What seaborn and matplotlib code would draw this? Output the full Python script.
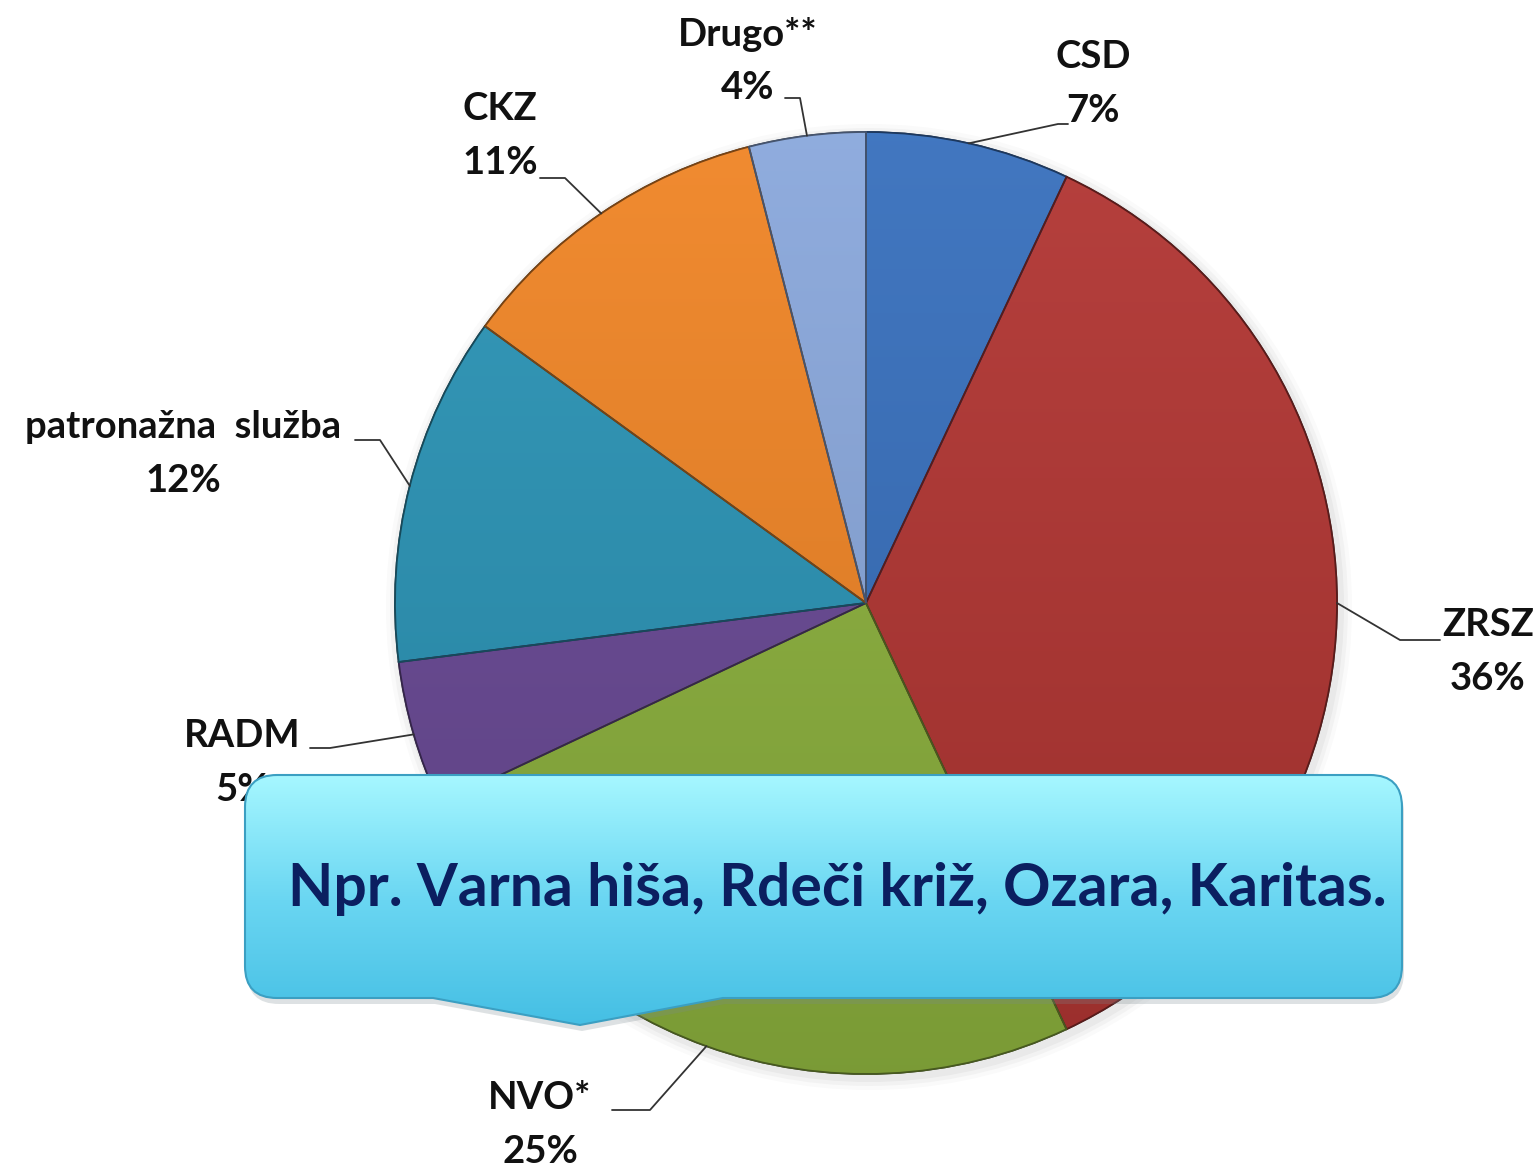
import numpy as np
import matplotlib
matplotlib.use('Agg')
import matplotlib.pyplot as plt
import matplotlib.colors as mcolors
from matplotlib.path import Path
from matplotlib.patches import PathPatch, Circle
import seaborn as sns

W, H = 1539, 1168

# slices, clockwise from 12 o'clock
labels = ['CSD', 'ZRSZ', 'NVO*', 'RADM', 'patronažna  služba', 'CKZ', 'Drugo**']
shares = [7, 36, 25, 5, 12, 11, 4]
colors = ['#3870bd', '#b23633', '#8db23e', '#6a4a96', '#2b94b6', '#f08526', '#8aa8dc']
note = 'Npr. Varna hiša, Rdeči križ, Ozara, Karitas.'

# label layout (pixel positions measured from the top-left of the slide)
label_xy = [(1093, 84), (1488, 652), (540, 1125), (242, 763), (183, 454), (500, 136), (748, 61)]
elbow_xy = [(1058, 124), (1400, 640), (650, 1110), (330, 748), (380, 440), (565, 178), (800, 98)]
end_xy = [(1068, 124), (1440, 640), (612, 1110), (310, 748), (355, 440), (540, 178), (785, 98)]

CX, CY, R = 866, H - 603, 471


def fy(y):
    return H - y


def shade(c, f):
    rgb = np.array(mcolors.to_rgb(c))
    if f > 0:
        rgb = rgb + (1 - rgb) * f
    else:
        rgb = rgb * (1 + f)
    return np.clip(rgb, 0, 1)


sns.set_theme(style='white')
plt.rcParams['font.family'] = ['Lato', 'DejaVu Sans']

fig = plt.figure(figsize=(W / 100, H / 100), dpi=100)
ax = fig.add_axes([0, 0, 1, 1])
ax.set_xlim(0, W)
ax.set_ylim(0, H)
ax.set_aspect('equal')
ax.axis('off')

# soft shadow behind the pie
for k, a in [(12, 0.04), (8, 0.06), (4, 0.08)]:
    ax.add_patch(Circle((CX + 3, CY - 4), R + k, color='#808080', alpha=a, lw=0, zorder=0))

pal = sns.color_palette(colors)
wedges, _ = ax.pie(shares, colors=pal, startangle=90, counterclock=False,
                   center=(CX, CY), radius=R, frame=True,
                   wedgeprops=dict(linewidth=1.2, edgecolor='#3a3a3a'))
ax.set_xlim(0, W)
ax.set_ylim(0, H)
ax.axis('off')

# vertical gradient in each slice, a bit like the Office bevel style
grad = np.linspace(0, 1, 256).reshape(-1, 1)
for w, c in zip(wedges, colors):
    cmap = mcolors.LinearSegmentedColormap.from_list('g', [shade(c, -0.13), shade(c, 0.05)])
    im = ax.imshow(grad, extent=[CX - R, CX + R, CY - R, CY + R], origin='lower',
                   cmap=cmap, aspect='auto', zorder=1.5, interpolation='bicubic')
    im.set_clip_path(w)
    w.set_zorder(1)
    ol = PathPatch(w.get_path(), transform=w.get_transform(), fill=False,
                   edgecolor=shade(c, -0.5), lw=1.3, zorder=1.6)
    ax.add_patch(ol)

# labels with leader lines
cum = 0
for lab, v, (tx, ty), (ex, ey), (hx, hy) in zip(labels, shares, label_xy, elbow_xy, end_xy):
    mid = np.deg2rad(90 - 360 * (cum + v / 2) / sum(shares))
    cum += v
    sx, sy = CX + R * np.cos(mid), CY + R * np.sin(mid)
    ax.plot([sx, ex, hx], [sy, fy(ey), fy(hy)], color='#333333', lw=1.3, zorder=2)
    ax.text(tx, fy(ty), f'{lab}\n{v}%', ha='center', va='center', multialignment='center',
            fontsize=27.5, fontweight='bold', color='#111111', linespacing=1.7, zorder=2)

# callout box with pointer
x0, x1, y0, y1, r = 245, 1402, 775, 998, 32
pts = [(x0 + r, y0), (x1 - r, y0), (x1, y0), (x1, y0 + r), (x1, y1 - r), (x1, y1), (x1 - r, y1),
       (723, y1), (580, 1025), (433, y1), (x0 + r, y1), (x0, y1), (x0, y1 - r), (x0, y0 + r),
       (x0, y0), (x0 + r, y0), (x0 + r, y0)]
codes = [Path.MOVETO, Path.LINETO, Path.CURVE3, Path.CURVE3, Path.LINETO, Path.CURVE3, Path.CURVE3,
         Path.LINETO, Path.LINETO, Path.LINETO, Path.LINETO, Path.CURVE3, Path.CURVE3, Path.LINETO,
         Path.CURVE3, Path.CURVE3, Path.CLOSEPOLY]
box = Path([(x, fy(y)) for x, y in pts], codes)

shadow = PathPatch(box.transformed(matplotlib.transforms.Affine2D().translate(2, -6)),
                   facecolor='#7a8a90', edgecolor='none', alpha=0.25, zorder=3)
ax.add_patch(shadow)
fill = PathPatch(box, facecolor='#6fd6f0', edgecolor='none', zorder=3.1)
ax.add_patch(fill)
cmap_box = mcolors.LinearSegmentedColormap.from_list('b', ['#45bfe4', '#6ad6f2', '#a6f7ff'])
im = ax.imshow(grad, extent=[x0, x1, fy(1025), fy(y0)], origin='lower', cmap=cmap_box,
               aspect='auto', zorder=3.2, interpolation='bicubic')
im.set_clip_path(fill)
ax.add_patch(PathPatch(box, fill=False, edgecolor='#3b9fc2', lw=1.5, zorder=3.3))

ax.text(837, fy(889), note, ha='center', va='center', fontsize=42.4, fontweight='bold',
        color='#0b1f60', zorder=4)

fig.savefig('out.png', dpi=100, facecolor='white')
